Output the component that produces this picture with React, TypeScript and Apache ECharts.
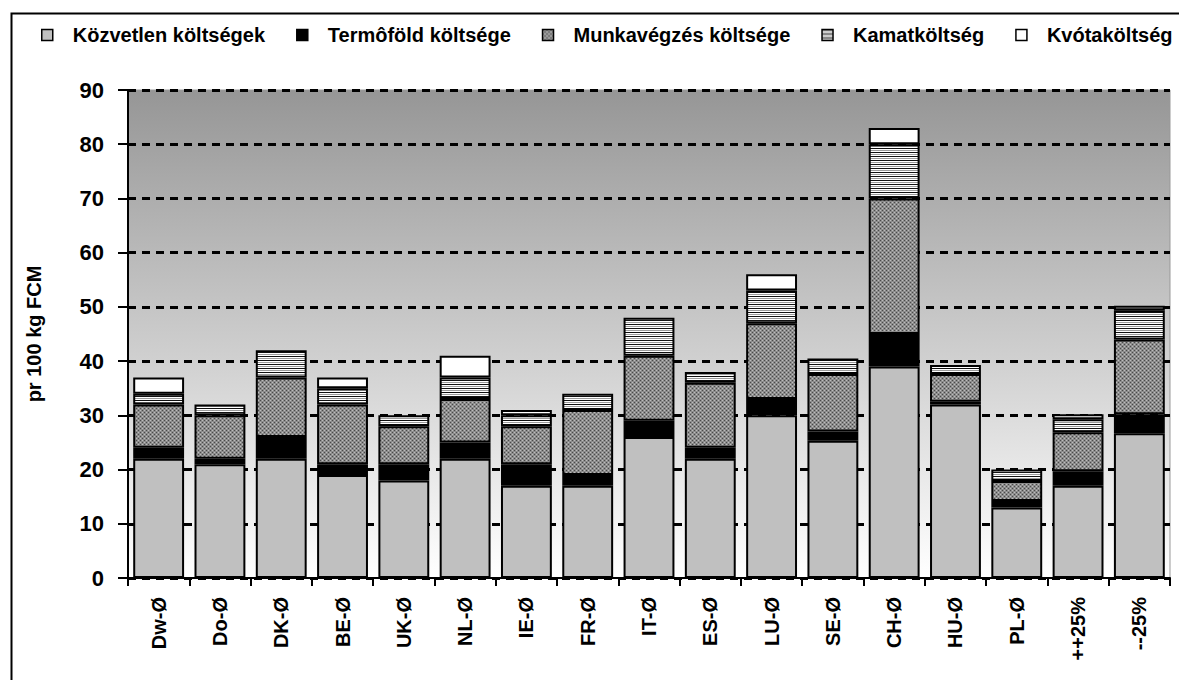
import React, { useEffect, useRef } from 'react';
import * as echarts from 'echarts';

const categories = ['Dw-Ø', 'Do-Ø', 'DK-Ø', 'BE-Ø', 'UK-Ø', 'NL-Ø', 'IE-Ø', 'FR-Ø', 'IT-Ø', 'ES-Ø', 'LU-Ø', 'SE-Ø', 'CH-Ø', 'HU-Ø', 'PL-Ø', '++25%', '--25%'];
const seriesNames = ['Közvetlen költségek', 'Termôföld költsége', 'Munkavégzés költsége', 'Kamatköltség', 'Kvótaköltség'];
const directCosts = [22, 21, 22, 19, 18, 22, 17, 17, 26, 22, 30, 25.3, 39, 32, 13, 17, 26.7];
const landCosts = [2, 1, 4, 2, 3, 3, 4, 2, 3, 2, 3, 1.7, 6, 0.5, 1.2, 2.7, 3.5];
const laborCosts = [8, 8, 11, 11, 7, 8, 7, 12, 12, 12, 14, 10.6, 25, 5.1, 3.7, 7.2, 13.8];
const interestCosts = [2, 2, 5, 3, 2, 4, 2, 3, 7, 2, 6, 2.9, 10, 1.7, 2.1, 2.4, 5.4];
const quotaCosts = [3, 0, 0, 2, 0, 4, 1, 0, 0, 0, 3, 0, 3, 0, 0, 0.9, 0.8];
const yAxisName = 'pr 100 kg FCM';

const FONT = '"Liberation Sans", Arial, sans-serif';

function makePattern(draw: (ctx: CanvasRenderingContext2D) => void, w: number, h: number) {
  const c = document.createElement('canvas');
  c.width = w;
  c.height = h;
  const ctx = c.getContext('2d')!;
  draw(ctx);
  return c;
}

export default function App() {
  const ref = useRef<HTMLDivElement>(null);
  useEffect(() => {
    if (!ref.current) return;
    const chart = echarts.init(ref.current, undefined, { renderer: 'svg' });

    const laborCanvas = makePattern((ctx) => {
      ctx.fillStyle = '#8c8c8c';
      ctx.fillRect(0, 0, 4, 4);
      ctx.fillStyle = '#4a4a4a';
      ctx.fillRect(0, 0, 1, 1);
      ctx.fillRect(2, 2, 1, 1);
      ctx.fillStyle = '#bdbdbd';
      ctx.fillRect(2, 0, 1, 1);
      ctx.fillRect(0, 2, 1, 1);
    }, 4, 4);
    const interestCanvas = makePattern((ctx) => {
      ctx.fillStyle = '#ffffff';
      ctx.fillRect(0, 0, 4, 4);
      ctx.fillStyle = '#111111';
      ctx.fillRect(0, 0, 4, 1);
      ctx.fillStyle = '#9a9a9a';
      ctx.fillRect(0, 2, 4, 1);
    }, 4, 4);

    const fills: any[] = [
      '#c0c0c0',
      '#000000',
      { image: laborCanvas, repeat: 'repeat' },
      { image: interestCanvas, repeat: 'repeat' },
      '#ffffff',
    ];
    const values = [directCosts, landCosts, laborCosts, interestCosts, quotaCosts];

    const option: any = {
      animation: false,
      textStyle: { fontFamily: FONT },
      graphic: [
        {
          type: 'rect',
          left: 9,
          top: 11,
          shape: { width: 1200, height: 700 },
          style: { fill: 'none', stroke: '#000', lineWidth: 2 },
          z: 0,
        },
      ],
      legend: {
        top: 20,
        left: 36,
        itemWidth: 11,
        itemHeight: 11,
        itemGap: 31,
        icon: 'rect',
        itemStyle: { borderColor: '#000', borderWidth: 1.5 },
        textStyle: { fontFamily: FONT, fontWeight: 'bold', fontSize: 20, color: '#000', padding: [0, 0, 0, 15] },
        data: seriesNames,
      },
      grid: {
        left: 128,
        right: 9,
        top: 90,
        bottom: 102,
        show: true,
        borderWidth: 1,
        borderColor: '#999',
        backgroundColor: new echarts.graphic.LinearGradient(0, 0, 0, 1, [
          { offset: 0, color: '#969696' },
          { offset: 1, color: '#ffffff' },
        ]),
      },
      xAxis: {
        type: 'category',
        data: categories,
        axisLine: { lineStyle: { color: '#000', width: 2 } },
        axisTick: { show: true, length: 8, lineStyle: { color: '#000', width: 2 } },
        axisLabel: {
          rotate: 90,
          margin: 19,
          fontFamily: FONT,
          fontWeight: 'bold',
          fontSize: 20,
          color: '#000',
        },
      },
      yAxis: {
        type: 'value',
        min: 0,
        max: 90,
        interval: 10,
        name: yAxisName,
        nameLocation: 'middle',
        nameGap: 84,
        nameTextStyle: { fontFamily: FONT, fontWeight: 'bold', fontSize: 20, color: '#000' },
        axisLine: { show: true, lineStyle: { color: '#000', width: 2 } },
        axisTick: { show: true, length: 10, lineStyle: { color: '#000', width: 2 } },
        axisLabel: { margin: 24, fontFamily: FONT, fontWeight: 'bold', fontSize: 22, color: '#000' },
        splitLine: { show: true, lineStyle: { color: '#000', width: 3, type: [8, 6] } },
      },
      series: seriesNames.map((name, i) => ({
        name,
        type: 'bar',
        stack: 'total',
        barCategoryGap: '17%',
        data: values[i].map((v) => (v === 0 ? '-' : v)),
        itemStyle: { color: fills[i], borderColor: '#000', borderWidth: 2 },
        emphasis: { disabled: true },
      })),
    };

    chart.setOption(option);
    return () => chart.dispose();
  }, []);

  return (
    <div
      ref={ref}
      style={{ position: 'fixed', left: 0, top: 0, width: 1179, height: 680, background: '#fff' }}
    />
  );
}
